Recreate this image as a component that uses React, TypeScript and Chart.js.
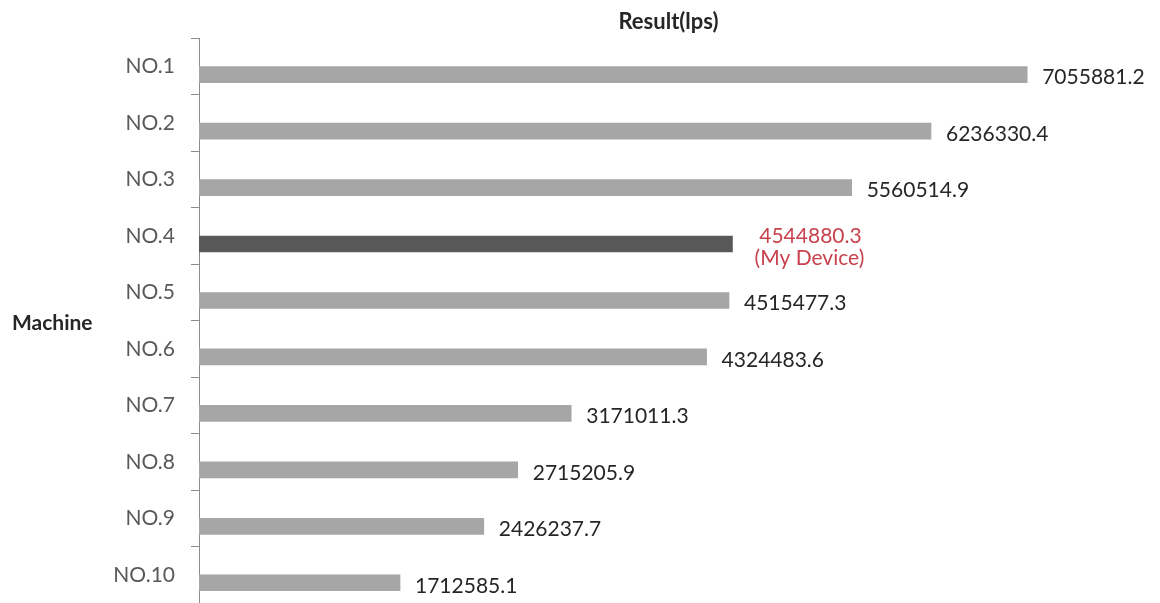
import React, { useEffect, useRef } from "react";
import { Chart, registerables } from "chart.js";

Chart.register(...registerables);

const machines: string[] = ["NO.1", "NO.2", "NO.3", "NO.4", "NO.5", "NO.6", "NO.7", "NO.8", "NO.9", "NO.10"];
const results: number[] = [7055881.2, 6236330.4, 5560514.9, 4544880.3, 4515477.3, 4324483.6, 3171011.3, 2715205.9, 2426237.7, 1712585.1];
const highlightIndex = 3;
const highlightNote = "(My Device)";
const xMax = 8000000;

const FONT = "Lato, 'Open Sans', sans-serif";

export default function App() {
  const ref = useRef<HTMLCanvasElement | null>(null);

  useEffect(() => {
    document.body.style.margin = "0";
    const canvas = ref.current;
    if (!canvas) return;

    const valueLabels = {
      id: "valueLabels",
      afterDatasetsDraw(chart: any) {
        const ctx = chart.ctx;
        const meta = chart.getDatasetMeta(1);
        ctx.save();
        ctx.textBaseline = "middle";
        meta.data.forEach((bar: any, i: number) => {
          const text = results[i].toFixed(1);
          if (i === highlightIndex) {
            ctx.fillStyle = "#c8424e";
            ctx.textAlign = "center";
            ctx.font = `21px ${FONT}`;
            ctx.fillText(text, bar.x + 78, bar.y - 8);
            ctx.fillText(highlightNote, bar.x + 77, bar.y + 14);
          } else {
            ctx.fillStyle = "#262626";
            ctx.textAlign = "left";
            ctx.font = `21px ${FONT}`;
            ctx.fillText(text, bar.x + 15, bar.y + 3);
          }
        });
        ctx.restore();
      },
    };

    const axisTitle = {
      id: "axisTitle",
      afterDraw(chart: any) {
        const ctx = chart.ctx;
        ctx.save();
        ctx.fillStyle = "#262626";
        ctx.font = `bold 21px ${FONT}`;
        ctx.textAlign = "left";
        ctx.textBaseline = "middle";
        ctx.fillText("Machine", 12, 323);
        ctx.restore();
      },
    };

    const chart = new Chart(canvas, {
      type: "bar",
      data: {
        labels: machines,
        datasets: [
          {
            label: "spacer",
            data: machines.map(() => null),
            backgroundColor: "rgba(0,0,0,0)",
          },
          {
            label: "Result(lps)",
            data: results,
            backgroundColor: results.map((_, i) => (i === highlightIndex ? "#595959" : "#a6a6a6")),
          },
        ],
      },
      options: {
        indexAxis: "y",
        animation: false,
        responsive: false,
        barThickness: 16,
        layout: { padding: { right: 22, left: 0, top: 0, bottom: 0 } },
        scales: {
          x: {
            type: "linear",
            display: false,
            min: 0,
            max: xMax,
          },
          y: {
            type: "category",
            position: "left",
            offset: true,
            afterFit(scale: any) {
              scale.width = 199;
              scale.paddingTop = 0;
              scale.paddingBottom = 0;
            },
            grid: {
              display: true,
              drawOnChartArea: false,
              drawTicks: true,
              tickLength: 8,
              offset: true,
              color: "#8c8c8c",
            },
            border: { display: true, color: "#8c8c8c" },
            ticks: {
              padding: 16,
              color: "#595959",
              font: { family: FONT, size: 21 },
            },
          },
        },
        plugins: {
          legend: { display: false },
          tooltip: { enabled: false },
          title: {
            display: true,
            text: "Result(lps)",
            fullSize: false,
            color: "#262626",
            font: { family: FONT, size: 22, weight: "bold" },
            padding: { top: 9, bottom: 3 },
          },
        },
      } as any,
      plugins: [valueLabels, axisTitle],
    });

    return () => chart.destroy();
  }, []);

  return (
    <div style={{ width: 1160, height: 603 }}>
      <canvas ref={ref} width={1160} height={603} />
    </div>
  );
}
